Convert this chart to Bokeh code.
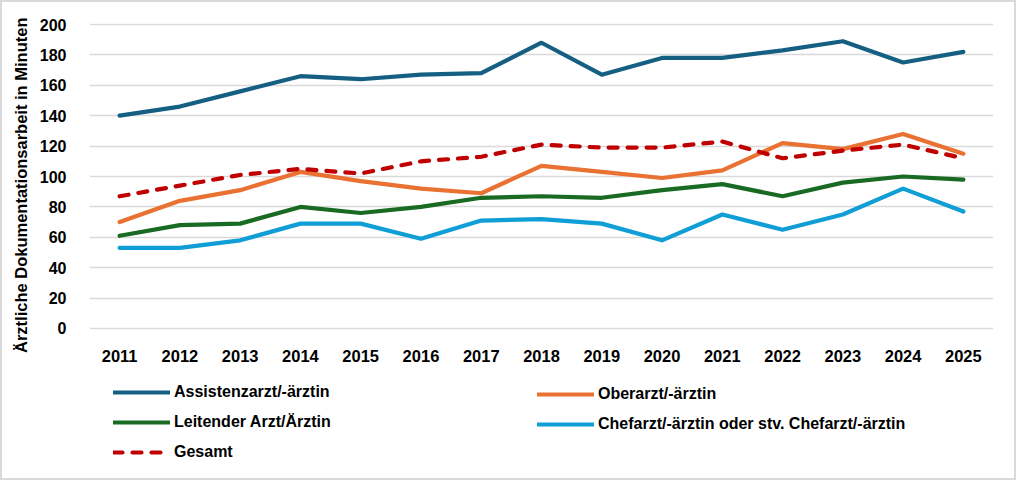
from bokeh.plotting import figure
from bokeh.models import Range1d, FactorRange, Legend, LegendItem, Title
from bokeh.embed import file_html
from bokeh.resources import INLINE

years = ["2011", "2012", "2013", "2014", "2015", "2016", "2017", "2018",
         "2019", "2020", "2021", "2022", "2023", "2024", "2025"]

assistenz = [140, 146, 156, 166, 164, 167, 168, 188, 167, 178, 178, 183, 189, 175, 182]
oberarzt = [70, 84, 91, 103, 97, 92, 89, 107, 103, 99, 104, 122, 118, 128, 115]
leitender = [61, 68, 69, 80, 76, 80, 86, 87, 86, 91, 95, 87, 96, 100, 98]
chefarzt = [53, 53, 58, 69, 69, 59, 71, 72, 69, 58, 75, 65, 75, 92, 77]
gesamt = [87, 94, 101, 105, 102, 110, 113, 121, 119, 119, 123, 112, 117, 121, 112]

y_ticks = [0, 20, 40, 60, 80, 100, 120, 140, 160, 180, 200]

labels = ["Assistenzarzt/-ärztin", "Oberarzt/-ärztin", "Leitender Arzt/Ärztin",
          "Chefarzt/-ärztin oder stv. Chefarzt/-ärztin", "Gesamt"]
colors = ["#156082", "#E97132", "#196B24", "#0F9ED5", "#C00000"]
y_label = "Ärztliche Dokumentationsarbeit in Minuten"

FONT = "Liberation Sans"

# frame spans 23..472 px; 0 sits at 328 px, 200 at 24 px (1.52 px per unit)
p = figure(width=1016, height=480, x_range=FactorRange(*years),
           y_range=Range1d(-94.737, 200.658), output_backend="svg",
           toolbar_location=None, min_border_left=89, min_border_right=23,
           min_border_top=23, min_border_bottom=8)
p.styles = {"box-shadow": "inset 0 0 0 2px #D9D9D9", "background-color": "white"}
p.outline_line_color = None
p.background_fill_color = None
p.border_fill_color = None

p.xgrid.grid_line_color = None
p.ygrid.grid_line_color = "#D9D9D9"
p.ygrid.grid_line_width = 1.5
p.yaxis.ticker = y_ticks
p.xaxis.fixed_location = 0

for ax in (p.xaxis[0], p.yaxis[0]):
    ax.axis_line_color = None
    ax.major_tick_line_color = None
    ax.minor_tick_line_color = None
    ax.major_label_text_font = FONT
    ax.major_label_text_font_style = "bold"
    ax.major_label_text_font_size = "16.5px"
    ax.major_label_text_color = "#000000"

p.yaxis.major_label_text_font_size = "16px"
p.xaxis.major_label_standoff = 16
p.yaxis.major_label_standoff = 17

ttl = Title(text=y_label, align="right", offset=-6, standoff=13,
            text_font=FONT, text_font_style="bold", text_font_size="16.5px",
            text_color="#000000")
p.add_layout(ttl, "left")

series = [assistenz, oberarzt, leitender, chefarzt, gesamt]
renderers = []
for i, (vals, col) in enumerate(zip(series, colors)):
    kw = dict(line_color=col, line_width=4.2, line_cap="round", line_join="round")
    if i == 4:
        kw["line_dash"] = "9 10"
    r = p.line(years, vals, **kw)
    renderers.append(r)


def make_legend(idx, loc):
    lg = Legend(items=[LegendItem(label=labels[k], renderers=[renderers[k]]) for k in idx],
                location=loc, orientation="vertical")
    lg.glyph_width = 57
    lg.glyph_height = 20
    lg.label_height = 20
    lg.spacing = 10
    lg.padding = 0
    lg.margin = 0
    lg.label_standoff = 4
    lg.border_line_color = None
    lg.background_fill_alpha = 0
    lg.label_text_font = FONT
    lg.label_text_font_style = "bold"
    lg.label_text_font_size = "16px"
    lg.label_text_color = "#000000"
    return lg

p.add_layout(make_legend([0, 2, 4], (24, 10)), "center")
p.add_layout(make_legend([1, 3], (448, 38)), "center")

open("out.html", "w").write(file_html(p, INLINE))
